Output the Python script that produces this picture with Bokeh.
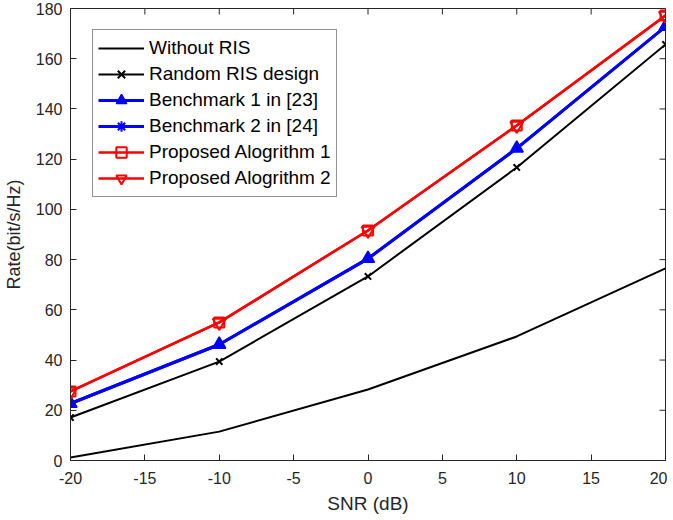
from bokeh.plotting import figure
from bokeh.models import Range1d, Legend, LegendItem, FixedTicker
from bokeh.embed import file_html
from bokeh.resources import INLINE

snr = [-20, -10, 0, 10, 20]
without_ris = [1.2, 11.5, 28.3, 49.4, 76.5]
random_ris = [17.1, 39.4, 73.3, 116.7, 165.7]
bench1 = [22.7, 46.2, 80.4, 124.3, 172.8]
bench2 = [22.7, 46.2, 80.4, 124.3, 172.8]
prop1 = [27.5, 55.0, 91.6, 133.4, 177.2]
prop2 = [27.5, 55.0, 91.6, 133.4, 177.2]

x_ticks = [-20, -15, -10, -5, 0, 5, 10, 15, 20]
y_ticks = [0, 20, 40, 60, 80, 100, 120, 140, 160, 180]
X_MIN, X_MAX = -20, 20
Y_MIN, Y_MAX = 0, 180

FONT = "Liberation Sans"
AX = "#262626"

W, H = 667, 518
ML, MR, MT, MB = 68, 2, 8, 58

p = figure(width=W, height=H, output_backend="svg", toolbar_location=None,
           x_range=Range1d(X_MIN, X_MAX), y_range=Range1d(Y_MIN, Y_MAX),
           min_border_left=ML, min_border_right=MR, min_border_top=MT, min_border_bottom=MB)
p.grid.visible = False
p.outline_line_color = AX
p.outline_line_width = 1
p.background_fill_color = "white"

for ax in (p.xaxis[0], p.yaxis[0]):
    ax.major_tick_in = 6
    ax.major_tick_out = 0
    ax.minor_tick_in = 0
    ax.minor_tick_out = 0
    ax.axis_line_color = AX
    ax.major_tick_line_color = AX
    ax.major_label_text_font = FONT
    ax.major_label_text_font_size = "16px"
    ax.major_label_text_color = AX
    ax.axis_label_text_font = FONT
    ax.axis_label_text_font_style = "normal"
    ax.axis_label_text_color = AX

p.xaxis[0].ticker = FixedTicker(ticks=x_ticks)
p.yaxis[0].ticker = FixedTicker(ticks=y_ticks)
p.xaxis[0].major_label_overrides = {t: str(t) for t in x_ticks}
p.yaxis[0].major_label_overrides = {t: str(t) for t in y_ticks}
p.xaxis[0].axis_label = "SNR (dB)"
p.yaxis[0].axis_label = "Rate(bit/s/Hz)"
p.xaxis[0].axis_label_text_font_size = "19px"
p.yaxis[0].axis_label_text_font_size = "18px"
p.xaxis[0].major_label_standoff = 11
p.yaxis[0].major_label_standoff = 8
p.xaxis[0].axis_label_standoff = 6
p.yaxis[0].axis_label_standoff = 9

# inward ticks on the top and right edges of the box (MATLAB "box on")
px_per_y = (H - MT - MB) / (Y_MAX - Y_MIN)
px_per_x = (W - ML - MR) / (X_MAX - X_MIN)
tick_y = 6 / px_per_y
tick_x = 6 / px_per_x
p.segment(x0=x_ticks, y0=[Y_MAX] * len(x_ticks), x1=x_ticks,
          y1=[Y_MAX - tick_y] * len(x_ticks), line_color=AX, line_width=1)
p.segment(x0=[X_MAX] * len(y_ticks), y0=y_ticks, x1=[X_MAX - tick_x] * len(y_ticks),
          y1=y_ticks, line_color=AX, line_width=1)

r0 = p.line(snr, without_ris, line_color="black", line_width=2)

r1l = p.line(snr, random_ris, line_color="black", line_width=2)
r1m = p.scatter(snr, random_ris, marker="x", size=9, line_color="black", line_width=2)

r3l = p.line(snr, bench2, line_color="blue", line_width=3)
r3m = p.scatter(snr, bench2, marker="asterisk", size=7, line_color="blue", line_width=2)

r2l = p.line(snr, bench1, line_color="blue", line_width=3)
r2m = p.scatter(snr, bench1, marker="triangle", size=13, line_color="blue",
                fill_color="blue", line_width=1.5)

r4l = p.line(snr, prop1, line_color="red", line_width=2.5)
r4m = p.scatter(snr, prop1, marker="square", size=10, line_color="red",
                fill_color=None, line_width=2)

r5l = p.line(snr, prop2, line_color="red", line_width=2.5)
r5m = p.scatter(snr, prop2, marker="inverted_triangle", size=13, line_color="red",
                fill_color=None, line_width=2)

legend = Legend(items=[
    LegendItem(label="Without RIS", renderers=[r0]),
    LegendItem(label="Random RIS design", renderers=[r1l, r1m]),
    LegendItem(label="Benchmark 1 in [23]", renderers=[r2l, r2m]),
    LegendItem(label="Benchmark 2 in [24]", renderers=[r3l, r3m]),
    LegendItem(label="Proposed Alogrithm 1", renderers=[r4l, r4m]),
    LegendItem(label="Proposed Alogrithm 2", renderers=[r5l, r5m]),
], location=(22, 263))
legend.label_text_font = FONT
legend.label_text_font_size = "19px"
legend.label_text_color = "black"
legend.glyph_width = 46
legend.glyph_height = 26
legend.label_height = 26
legend.label_standoff = 5
legend.spacing = 0
legend.padding = 5
legend.margin = 0
legend.border_line_color = AX
legend.border_line_width = 1
legend.background_fill_alpha = 1
p.add_layout(legend)

open("out.html", "w").write(file_html(p, INLINE))
